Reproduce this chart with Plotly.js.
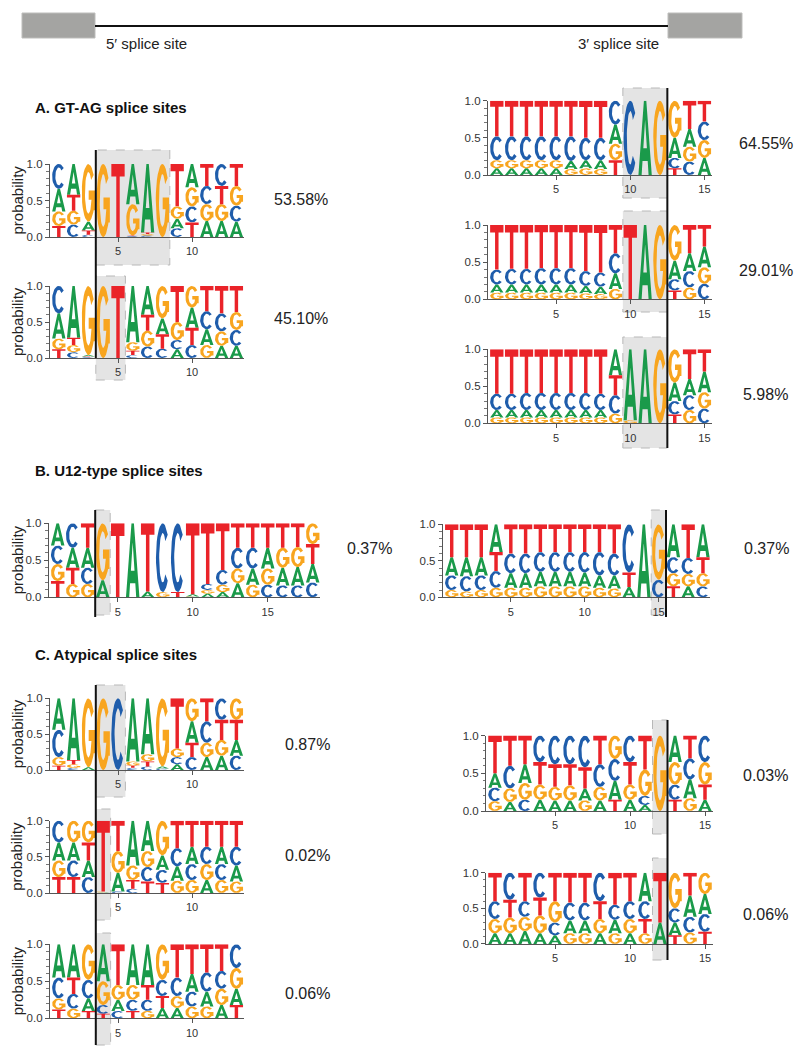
<!DOCTYPE html>
<html><head><meta charset="utf-8">
<script src="https://cdn.plot.ly/plotly-3.0.1.min.js"></script>
<style>html,body{margin:0;padding:0;background:#fff}#chart{width:800px;height:1060px}</style>
</head><body><div id="chart"></div><script>
// ---------------- DATA (probabilities per position, bases A,C,G,T) ----------------
const gtag5a_A = [0.31,0.42,0.12,0,0,0.55,0.94,0,0.13,0.32,0.22,0.22,0.21];
const gtag5a_C = [0.34,0.17,0.03,0,0,0.01,0.02,0,0.12,0.22,0.25,0.30,0.22];
const gtag5a_G = [0.20,0.19,0.79,1,0,0.43,0.02,1,0.17,0.26,0.23,0.23,0.27];
const gtag5a_T = [0.15,0.22,0.06,0,1,0.01,0.02,0,0.58,0.20,0.30,0.25,0.30];

const gtag5b_A = [0.35,0.72,0.02,0,0,0.78,0.40,0.22,0.12,0.28,0.22,0.17,0.17];
const gtag5b_C = [0.38,0.08,0.01,0,0,0.04,0.16,0.13,0.13,0.18,0.25,0.25,0.22];
const gtag5b_G = [0.15,0.10,0.96,1,0,0.12,0.22,0.45,0.25,0.30,0.18,0.20,0.25];
const gtag5b_T = [0.12,0.10,0.01,0,1,0.06,0.22,0.20,0.50,0.24,0.35,0.38,0.36];

const gtag3a_A = [0.09,0.09,0.09,0.09,0.09,0.11,0.11,0.12,0.26,0,1,0,0.27,0.24,0.23];
const gtag3a_C = [0.32,0.32,0.32,0.32,0.32,0.33,0.30,0.30,0.32,1,0,0,0.14,0.18,0.25];
const gtag3a_G = [0.11,0.11,0.11,0.11,0.11,0.08,0.09,0.08,0.22,0,0,1,0.50,0.20,0.24];
const gtag3a_T = [0.48,0.48,0.48,0.48,0.48,0.48,0.50,0.50,0.20,0,0,0,0.09,0.38,0.28];

const gtag3b_A = [0.11,0.11,0.11,0.11,0.11,0.11,0.10,0.10,0.21,0,1,0,0.25,0.24,0.28];
const gtag3b_C = [0.20,0.21,0.21,0.22,0.22,0.22,0.20,0.19,0.27,0,0,0,0.15,0.22,0.21];
const gtag3b_G = [0.09,0.09,0.09,0.09,0.09,0.09,0.08,0.07,0.14,0,0,1,0.48,0.16,0.22];
const gtag3b_T = [0.60,0.59,0.59,0.58,0.58,0.58,0.62,0.64,0.38,1,0,0,0.12,0.38,0.29];

const gtag3c_A = [0.10,0.10,0.10,0.10,0.10,0.10,0.10,0.10,0.35,0.96,1,0,0.25,0.22,0.28];
const gtag3c_C = [0.22,0.22,0.23,0.23,0.23,0.23,0.23,0.22,0.25,0,0,0,0.18,0.20,0.20];
const gtag3c_G = [0.08,0.08,0.08,0.08,0.08,0.08,0.08,0.08,0.13,0.04,0,1,0.45,0.18,0.22];
const gtag3c_T = [0.60,0.60,0.59,0.59,0.59,0.59,0.59,0.60,0.27,0,0,0,0.12,0.40,0.30];

const u12_5_A = [0.30,0.27,0.27,0.23,0,1,0.08,0,0,0.03,0.05,0.07,0.19,0.22,0.28,0.24,0.25,0.25];
const u12_5_C = [0.25,0.33,0.22,0,0,0,0,0.93,0.93,0,0.08,0.20,0.28,0.28,0.17,0.16,0.16,0.20];
const u12_5_G = [0.23,0.18,0.18,0.77,0,0,0,0.07,0,0.01,0.05,0.10,0.20,0.17,0.22,0.27,0.27,0.28];
const u12_5_T = [0.22,0.22,0.33,0,1,0,0.92,0,0.07,0.96,0.82,0.63,0.33,0.33,0.33,0.33,0.32,0.27];

const u12_3_A = [0.25,0.26,0.25,0.38,0.20,0.20,0.20,0.20,0.20,0.19,0.17,0.18,0.14,1,0,0.45,0.15,0.45];
const u12_3_C = [0.20,0.21,0.20,0.23,0.27,0.27,0.27,0.27,0.27,0.28,0.32,0.30,0.66,0,0.24,0.22,0.22,0.15];
const u12_3_G = [0.10,0.08,0.10,0.13,0.13,0.13,0.15,0.15,0.15,0.15,0.13,0.12,0,0,0.76,0.18,0.17,0.18];
const u12_3_T = [0.45,0.45,0.45,0.26,0.40,0.40,0.38,0.38,0.38,0.38,0.38,0.40,0.20,0,0,0.15,0.46,0.22];

const aty5a_A = [0.44,0.86,0.04,0,0,0.88,0.78,0.03,0.08,0.30,0.18,0.20,0.22];
const aty5a_C = [0.38,0.03,0,0,1,0.03,0.05,0.02,0.10,0.18,0.30,0.30,0.20];
const aty5a_G = [0.12,0.05,0.96,1,0,0.06,0.10,0.95,0.12,0.32,0.20,0.22,0.30];
const aty5a_T = [0.06,0.06,0,0,0,0.03,0.07,0,0.70,0.20,0.32,0.28,0.28];

const aty5b_A = [0.25,0.25,0.23,0.01,0.26,0.62,0.42,0.20,0.20,0.24,0.18,0.24,0.22];
const aty5b_C = [0.30,0.23,0.22,0.00,0.02,0.06,0.20,0.18,0.25,0.22,0.24,0.22,0.26];
const aty5b_G = [0.23,0.30,0.30,0.01,0.30,0.20,0.22,0.48,0.17,0.18,0.22,0.18,0.16];
const aty5b_T = [0.22,0.22,0.25,0.98,0.42,0.12,0.16,0.14,0.38,0.36,0.36,0.36,0.36];

const aty5c_A = [0.45,0.45,0.17,0.50,0.15,0.55,0.55,0.14,0.14,0.24,0.20,0.18,0.22];
const aty5c_C = [0.28,0.20,0.25,0.12,0.10,0.15,0.15,0.22,0.25,0.20,0.26,0.24,0.32];
const aty5c_G = [0.15,0.13,0.48,0.32,0.20,0.20,0.10,0.48,0.16,0.16,0.16,0.22,0.28];
const aty5c_T = [0.12,0.22,0.10,0.06,0.55,0.10,0.20,0.16,0.45,0.40,0.38,0.36,0.18];

const aty3a_A = [0.19,0.12,0.25,0.15,0.14,0.14,0.16,0.14,0.25,0.15,0.08,0,0.35,0.25,0.15];
const aty3a_C = [0.18,0.30,0.15,0.35,0.38,0.38,0.42,0.30,0.29,0.35,0.12,0,0.20,0.28,0.35];
const aty3a_G = [0.13,0.18,0.22,0.20,0.18,0.20,0.14,0.18,0.31,0.20,0.35,1,0.30,0.17,0.30];
const aty3a_T = [0.50,0.40,0.38,0.30,0.30,0.28,0.28,0.38,0.15,0.30,0.45,0,0.15,0.30,0.20];

const aty3b_A = [0.15,0.15,0.18,0.15,0.12,0.18,0.18,0.15,0.19,0.15,0.40,0.30,0.18,0.30,0.28];
const aty3b_C = [0.25,0.38,0.22,0.35,0.18,0.25,0.25,0.40,0.21,0.25,0.25,0,0.20,0.22,0.25];
const aty3b_G = [0.20,0.22,0.20,0.25,0.30,0.15,0.15,0.20,0.15,0.20,0.15,0,0.50,0.16,0.30];
const aty3b_T = [0.40,0.25,0.40,0.25,0.40,0.42,0.42,0.25,0.45,0.40,0.20,0.70,0.12,0.32,0.17];

const pctLabels = ['53.58%','45.10%','64.55%','29.01%','5.98%','0.37%','0.37%','0.87%','0.02%','0.06%','0.03%','0.06%'];
const sectionTitles = ['A. GT-AG splice sites','B. U12-type splice sites','C. Atypical splice sites'];
const xTickVals = [5,10,15];
const yTickVals = [0,0.5,1];
const yTickText = ['0.0','0.5','1.0'];

// ---------------- LAYOUT GEOMETRY (pixels) ----------------
const W = 800, H = 1060;
const panels = [
  {d:[gtag5a_A,gtag5a_C,gtag5a_G,gtag5a_T], pos1:58.8, sp:14.8, yTop:164, yBot:237, ylab:true, pct:[272,199]},
  {d:[gtag5b_A,gtag5b_C,gtag5b_G,gtag5b_T], pos1:58.8, sp:14.8, yTop:286, yBot:358, ylab:true, pct:[272,318]},
  {d:[gtag3a_A,gtag3a_C,gtag3a_G,gtag3a_T], pos1:496.8, sp:14.83, yTop:100.7, yBot:175, ylab:false, pct:[737,143]},
  {d:[gtag3b_A,gtag3b_C,gtag3b_G,gtag3b_T], pos1:496.8, sp:14.83, yTop:225, yBot:299.3, ylab:false, pct:[737,270]},
  {d:[gtag3c_A,gtag3c_C,gtag3c_G,gtag3c_T], pos1:496.8, sp:14.83, yTop:349.3, yBot:423.3, ylab:false, pct:[741,395]},
  {d:[u12_5_A,u12_5_C,u12_5_G,u12_5_T], pos1:57.7, sp:15, yTop:523.3, yBot:597.3, ylab:true, pct:[345,548]},
  {d:[u12_3_A,u12_3_C,u12_3_G,u12_3_T], pos1:451.7, sp:14.78, yTop:524.3, yBot:597.3, ylab:false, pct:[742,548]},
  {d:[aty5a_A,aty5a_C,aty5a_G,aty5a_T], pos1:58.8, sp:14.8, yTop:698.3, yBot:770, ylab:true, pct:[283,744]},
  {d:[aty5b_A,aty5b_C,aty5b_G,aty5b_T], pos1:58.8, sp:14.8, yTop:820.7, yBot:893, ylab:true, pct:[283,855]},
  {d:[aty5c_A,aty5c_C,aty5c_G,aty5c_T], pos1:58.8, sp:14.8, yTop:944.3, yBot:1018.3, ylab:true, pct:[283,993]},
  {d:[aty3a_A,aty3a_C,aty3a_G,aty3a_T], pos1:495, sp:15, yTop:735.6, yBot:811, ylab:false, pct:[741,775]},
  {d:[aty3b_A,aty3b_C,aty3b_G,aty3b_T], pos1:495, sp:15, yTop:872.7, yBot:943.9, ylab:false, pct:[741,914]}
];
// highlighted (gray) columns and splice-junction lines, in position units
const boxes = [
  [0,3.5,8.5,150,265],[1,3.5,5.5,276,380],[2,9.5,12.5,88,198],[3,9.5,12.5,211,312],[4,9.5,12.5,337,448],
  [5,3.5,4.5,510,615],[6,14.5,15.5,510,615],[7,3.5,5.5,685,797],[8,3.5,4.5,809,920],[9,3.5,4.5,933,1045],
  [10,11.5,12.5,720,834],[11,11.5,12.5,858,960]
];
const junctions = [[0,3.5,150,358],[2,12.5,88,448],[5,3.5,510,617],[6,15.5,510,617],[7,3.5,685,1045],[10,12.5,720,960]];

const COLORS = {A:'#1a9a4a', C:'#1f5dab', G:'#f8a51f', T:'#ea2329'};
const BASES = ['A','C','G','T'];
const RL = 0.4;

// ---------------- GLYPHS (unit box polygons) ----------------
function ell(rx, ry, a0, a1, n){const o=[];for(let i=0;i<=n;i++){const t=(a0+(a1-a0)*i/n)*Math.PI/180;o.push([0.5+rx*Math.cos(t),0.5+ry*Math.sin(t)]);}return o;}
function band(a0,a1,rxo,ryo,rxi,ryi,n){return ell(rxo,ryo,a0,a1,n).concat(ell(rxi,ryi,a1,a0,n));}
function ccw(poly){let s=0;for(let i=0;i<poly.length;i++){const a=poly[i],b=poly[(i+1)%poly.length];s+=a[0]*b[1]-b[0]*a[1];}return s<0?poly.slice().reverse():poly;}
const GLYPH = {
  A: [[[0,0],[0.24,0],[0.59,1],[0.41,1]], [[0.76,0],[1,0],[0.59,1],[0.41,1]], [[0.2,0.19],[0.8,0.19],[0.74,0.36],[0.26,0.36]]],
  C: [band(42,318,0.5,0.5,0.26,0.36,30)],
  G: [band(38,360,0.5,0.5,0.26,0.36,30), [[0.52,0.38],[1,0.38],[1,0.54],[0.52,0.54]], [[0.76,0.2],[1,0.2],[1,0.5],[0.76,0.5]]],
  T: [[[0,1],[0,0.83],[0.37,0.83],[0.37,0],[0.63,0],[0.63,0.83],[1,0.83],[1,1]]]
};
for(const k in GLYPH) GLYPH[k] = GLYPH[k].map(ccw);
const LW = 0.9;

const traces = [];
const layout = {
  width: W, height: H, margin:{l:0,r:0,t:0,b:0}, showlegend:false,
  paper_bgcolor:'#ffffff', plot_bgcolor:'rgba(0,0,0,0)',
  font:{family:'Liberation Sans, Arial, sans-serif', color:'#222'},
  shapes:[], annotations:[]
};
const pxX = px => px / W;
const pxY = py => 1 - py / H;

panels.forEach((p, k) => {
  const sfx = k === 0 ? '' : String(k+1);
  const n = p.d[0].length;
  const rR = n + 0.5;
  const xL = p.pos1 + (RL - 1) * p.sp;
  const xR = p.pos1 + (rR - 1) * p.sp;
  layout['xaxis'+sfx] = {
    domain:[pxX(xL), pxX(xR)], range:[RL, rR], anchor:'y'+sfx,
    tickmode:'array', tickvals:xTickVals.filter(v => v < rR), ticks:'outside', ticklen:4, tickwidth:1, tickcolor:'#555',
    showline:true, linecolor:'#555', linewidth:1, showgrid:false, zeroline:false, fixedrange:true,
    tickfont:{size:11, color:'#333'}
  };
  layout['yaxis'+sfx] = {
    domain:[pxY(p.yBot), pxY(p.yTop)], range:[0,1], anchor:'x'+sfx,
    tickmode:'array', tickvals:yTickVals, ticktext:yTickText, ticks:'outside', ticklen:4, tickwidth:1, tickcolor:'#555',
    minor:{tickmode:'array', tickvals:[0.1,0.2,0.3,0.4,0.6,0.7,0.8,0.9], ticks:'outside', ticklen:2.5, tickcolor:'#777'},
    showline:true, linecolor:'#555', linewidth:1, showgrid:false, zeroline:false, fixedrange:true,
    tickfont:{size:11.5, color:'#333'}
  };
  const acc = {}; BASES.forEach(b => acc[b] = {x:[], y:[]});
  for(let i=0;i<n;i++){
    const pos = i + 1;
    let col = BASES.map((b,j) => ({b, v:p.d[j][i]})).filter(o => o.v > 0.004);
    const tot = col.reduce((s,o) => s + o.v, 0);
    col.sort((a,b) => a.v - b.v);
    let y0 = 0;
    col.forEach(o => {
      const h = o.v / Math.max(tot, 1);
      GLYPH[o.b].forEach(poly => {
        poly.forEach(([u,v]) => { acc[o.b].x.push(pos - LW/2 + u*LW); acc[o.b].y.push(y0 + v*h); });
        acc[o.b].x.push(null); acc[o.b].y.push(null);
      });
      y0 += h;
    });
  }
  BASES.forEach(b => traces.push({
    type:'scatter', mode:'lines', x:acc[b].x, y:acc[b].y, fill:'toself', fillcolor:COLORS[b],
    line:{width:0, color:COLORS[b]}, hoverinfo:'skip', xaxis:'x'+sfx, yaxis:'y'+sfx, name:b
  }));
  if(p.ylab) layout.annotations.push({xref:'paper', yref:'paper', x:pxX(17), y:pxY((p.yTop+p.yBot)/2), text:'probability', textangle:-90, showarrow:false, font:{size:15, color:'#222'}, xanchor:'center', yanchor:'middle'});
  layout.annotations.push({xref:'paper', yref:'paper', x:pxX(p.pct[0]), y:pxY(p.pct[1]), text:pctLabels[k], showarrow:false, xanchor:'left', yanchor:'middle', font:{size:16, color:'#222'}});
});

function posPx(k, pos){const p = panels[k]; return p.pos1 + (pos - 1) * p.sp;}
boxes.forEach(([k, a, b, t, bt]) => layout.shapes.push({type:'rect', xref:'paper', yref:'paper', layer:'below',
  x0:pxX(posPx(k,a)), x1:pxX(posPx(k,b)), y0:pxY(bt), y1:pxY(t), fillcolor:'#e4e4e4', line:{color:'#b8b8b8', width:1, dash:'dash'}}));
junctions.forEach(([k, a, t, bt]) => layout.shapes.push({type:'line', xref:'paper', yref:'paper', layer:'above',
  x0:pxX(posPx(k,a)), x1:pxX(posPx(k,a)), y0:pxY(bt), y1:pxY(t), line:{color:'#111', width:2}}));

// header: exon boxes and intron line
layout.shapes.push({type:'rect', xref:'paper', yref:'paper', x0:pxX(22), x1:pxX(95), y0:pxY(38), y1:pxY(13), fillcolor:'#a4a4a2', line:{color:'#bdbdbb', width:1}});
layout.shapes.push({type:'rect', xref:'paper', yref:'paper', x0:pxX(668), x1:pxX(742), y0:pxY(38), y1:pxY(13), fillcolor:'#a4a4a2', line:{color:'#bdbdbb', width:1}});
layout.shapes.push({type:'line', xref:'paper', yref:'paper', x0:pxX(95), x1:pxX(668), y0:pxY(26), y1:pxY(26), line:{color:'#111', width:2}});
layout.annotations.push({xref:'paper', yref:'paper', x:pxX(104), y:pxY(43), text:'5′ splice site', showarrow:false, xanchor:'left', yanchor:'middle', font:{size:15, color:'#222'}});
layout.annotations.push({xref:'paper', yref:'paper', x:pxX(661), y:pxY(43), text:'3′ splice site', showarrow:false, xanchor:'right', yanchor:'middle', font:{size:15, color:'#222'}});

const titleY = [108, 470, 654];
sectionTitles.forEach((t, i) => layout.annotations.push({xref:'paper', yref:'paper', x:pxX(33), y:pxY(titleY[i]), text:'<b>'+t+'</b>', showarrow:false, xanchor:'left', yanchor:'middle', font:{size:15, color:'#111'}}));

Plotly.newPlot('chart', traces, layout, {staticPlot:true, displayModeBar:false});
</script></body></html>
